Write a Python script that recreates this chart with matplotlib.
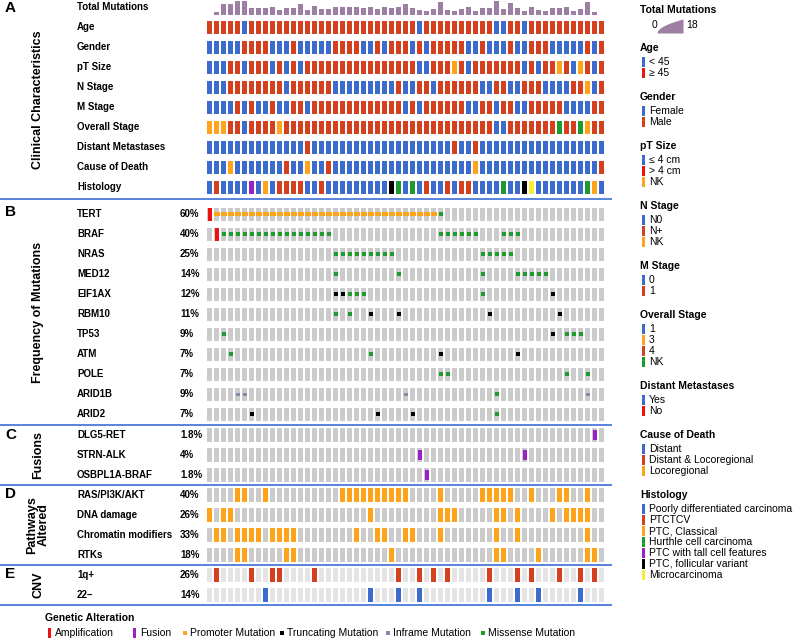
import matplotlib
matplotlib.use("Agg")
import matplotlib.pyplot as plt
import numpy as np

plt.rcParams['font.family'] = ['Liberation Sans', 'DejaVu Sans']

N = 57
total_mutations = [0, 3, 13, 13, 18, 17, 9, 9, 9, 10,
                   6, 9, 9, 14, 6, 11, 7, 7, 10, 10,
                   10, 10, 9, 10, 7, 10, 9, 10, 14, 9,
                   6, 4, 7, 16, 6, 4, 7, 10, 4, 9,
                   9, 17, 7, 15, 9, 4, 10, 6, 4, 9,
                   9, 10, 4, 7, 16, 3, 0]

# ---- clinical rows (one code digit per sample) ----
clin_labels = ["Age", "Gender", "pT Size", "N Stage", "M Stage", "Overall Stage",
               "Distant Metastases", "Cause of Death", "Histology"]
age = "1111101111" "1111111111" "1111111111" "0111111111" "1001101111" "1111111"
gender = "0000011110" "0010000011" "1100101110" "1011111001" "0001001110" "0000101"
pt_size = "0001101110" "1010111111" "1111111111" "0011121011" "1111101011" "2102101"
n_stage = "0001111111" "1011111100" "0000000100" "1101111110" "0110011100" "0011201"
m_stage = "0000101001" "0011011111" "1111111101" "0111111001" "1011001111" "1000011"
overall = "1112202222" "1222222222" "2222222222" "2222222222" "2002222222" "3223122"
dist_met = "0000000000" "0000100000" "0000000000" "0000010010" "0000000000" "0000000"
cause = "0002000000" "0100200100" "0000000000" "0000000020" "0000000000" "0000001"
histology = "0100004020" "1111001000" "0000005303" "0100101100" "0030056000" "0000320"
clin_data = [age, gender, pt_size, n_stage, m_stage, overall, dist_met, cause, histology]

# ---- mutations (A amplification, P promoter, T truncating, I inframe, M missense) ----
genes = ["TERT", "BRAF", "NRAS", "MED12", "EIF1AX", "RBM10", "TP53", "ATM", "POLE", "ARID1B", "ARID2"]
gene_pct = ["60%", "40%", "25%", "14%", "12%", "11%", "9%", "7%", "7%", "9%", "7%"]
mutations = [
    "APPPPPPPPP" "PPPPPPPPPP" "PPPPPPPPPP" "PPPM......" ".........." ".......",
    ".AMMMMMMMM" "MMMMMMMM.." ".........." "...MMMMMM." "..MMM....." ".......",
    ".........." "........MM" "MMMMMMM..." ".........M" "MMMM......" ".......",
    ".........." "........M." ".......M.." ".........M" "....MMMMM." ".......",
    ".........." "........TT" "MMM......." ".........M" ".........T" ".......",
    ".........." "........M." "M..T...T.." ".........." "T........." "T......",
    "..M......." ".........." ".........." ".........." ".........T" ".MMM...",
    "...M......" ".........." "...M......" "...T......" "....T....." ".......",
    ".........." ".........." ".........." "...MM....." ".........." ".M..M..",
    "....II...." ".........." "........I." ".........." ".M........" "....I..",
    "......T..." ".........." "....T....T" ".........." ".M........" ".......",
]

fusions = ["DLG5-RET", "STRN-ALK", "OSBPL1A-BRAF"]
fusion_pct = ["1.8%", "4%", "1.8%"]
fusion_data = [
    ".........." ".........." ".........." ".........." ".........." ".....F.",
    ".........." ".........." ".........." "F........." ".....F...." ".......",
    ".........." ".........." ".........." ".F........" ".........." ".......",
]

pathways = ["RAS/PI3K/AKT", "DNA damage", "Chromatin modifiers", "RTKs"]
pathway_pct = ["40%", "26%", "33%", "18%"]
pathway_data = [
    "....XX..X." ".........X" "XXXXXXXXX." "...X.....X" "XXXX..X..." "XX..X..",
    "X.XX......" ".........." "...X......" "...XXX...." ".XX.X....X" ".XXXX..",
    ".XX.XXXX.X" "XXX......." ".X..XX..XX" "...X......" ".X..X....." "....X..",
    "....XX...." ".XX......." "......X..." ".........." ".XX....X.." "....XX.",
]

cnvs = ["1q+", "22\u2013"]
cnv_pct = ["26%", "14%"]
cnv_data = [
    ".X....X..X" "X....X...." ".......X.." "X.X.X....." "X...X.X..." "X..X.X.",
    "........X." ".........." "...X...X.." "X........." "X...X..X.." "...X...",
]

# ---- colours ----
BLUE = "#3b6bcc"; RUST = "#d5401e"; RED = "#ee1111"; ORANGE = "#ffa31a"
GREEN = "#1f9a2e"; PURPLE = "#9a20c8"; BLACK = "#000000"; YELLOW = "#f7ec3a"
GREY = "#cbcbcb"; LGREY = "#e4e4e4"; INFRAME = "#7f8ea6"; TMB = "#9d7fa3"
LINE = "#4a7ad8"

clin_colors = [[BLUE, RUST], [BLUE, RUST], [BLUE, RUST, ORANGE], [BLUE, RUST, ORANGE],
               [BLUE, RUST], [BLUE, ORANGE, RUST, GREEN], [BLUE, RUST], [BLUE, RUST, ORANGE],
               [BLUE, RUST, ORANGE, GREEN, PURPLE, BLACK, YELLOW]]

fig = plt.figure(figsize=(8, 6.4), dpi=100)
W, H = 800, 640
gx0, gx1 = 206.3, 605.3

ov = fig.add_axes([0, 0, 1, 1])
ov.set_xlim(0, W); ov.set_ylim(H, 0); ov.axis('off')

ax = fig.add_axes([gx0 / W, 0, (gx1 - gx0) / W, 1])
ax.set_xlim(-0.5, N - 0.5); ax.set_ylim(H, 0); ax.axis('off')

bax = fig.add_axes([gx0 / W, 1 - 14.5 / H, (gx1 - gx0) / W, 14.0 / H])
bax.set_xlim(-0.5, N - 0.5); bax.set_ylim(0, 18); bax.axis('off')

cols = np.arange(N)
bax.bar(cols, total_mutations, width=0.7, color=TMB)

CW = 0.7  # cell width in columns
CH = 13.5

def cell_bars(yc, colors, h=CH, w=CW):
    ax.bar(cols, [h] * N, bottom=yc - h / 2, width=w, color=colors, linewidth=0)

# clinical
clin_y = [27.5 + 20 * i for i in range(len(clin_labels))]
for lab, codes, pal, yc in zip(clin_labels, clin_data, clin_colors, clin_y):
    cell_bars(yc, [pal[int(c)] for c in codes])
    ov.text(77, yc, lab, fontsize=7, fontweight='bold', va='center', ha='left')
ov.text(77, 7, "Total Mutations", fontsize=7, fontweight='bold', va='center', ha='left')

mark_style = {
    'P': (ORANGE, 0.78, 4.0),
    'T': (BLACK, 0.6, 4.2),
    'I': (INFRAME, 0.6, 3.6),
    'M': (GREEN, 0.6, 4.2),
}

def draw_alt_rows(labels, pcts, data, y0, bg=GREY):
    for i, (lab, pct, s) in enumerate(zip(labels, pcts, data)):
        yc = y0 + 20 * i
        cell_bars(yc, [bg] * N, h=13.3)
        for k, c in enumerate(s):
            if c == '.':
                continue
            if c == 'A':
                ax.bar(k, 13.3, bottom=yc - 6.65, width=0.62, color=RED, linewidth=0)
            elif c == 'F':
                ax.bar(k, 10, bottom=yc - 5, width=0.6, color=PURPLE, linewidth=0)
            elif c == 'X':
                ax.bar(k, 13.3, bottom=yc - 6.65, width=CW, color=ORANGE, linewidth=0)
            else:
                col, w, h = mark_style[c]
                ax.bar(k, h, bottom=yc - h / 2, width=w, color=col, linewidth=0)
        ov.text(77, yc, lab, fontsize=7, fontweight='bold', va='center', ha='left')
        ov.text(180, yc, pct, fontsize=7, fontweight='bold', va='center', ha='left')

draw_alt_rows(genes, gene_pct, mutations, 214.3)
draw_alt_rows(fusions, fusion_pct, fusion_data, 435)
draw_alt_rows(pathways, pathway_pct, pathway_data, 495)

# CNV rows
for i, (lab, pct, s) in enumerate(zip(cnvs, cnv_pct, cnv_data)):
    yc = 575 + 20 * i
    colr = RUST if i == 0 else BLUE
    cell_bars(yc, [colr if c == 'X' else LGREY for c in s], h=13.3)
    ov.text(77, yc, lab, fontsize=7, fontweight='bold', va='center', ha='left')
    ov.text(180, yc, pct, fontsize=7, fontweight='bold', va='center', ha='left')

# separators
for y in [199, 424.5, 485, 565, 605]:
    ov.plot([0, 612], [y, y], color=LINE, lw=1.3, solid_capstyle='butt')

# panel letters and section titles
for letter, y in [("A", 8), ("B", 212), ("C", 435), ("D", 494), ("E", 574)]:
    ov.text(5, y, letter, fontsize=11, fontweight='bold', va='center', ha='left')
ov.text(38, 100, "Clinical Characteristics", rotation=90, fontsize=9, fontweight='bold', ha='center', va='center')
ov.text(38, 312, "Frequency of Mutations", rotation=90, fontsize=9, fontweight='bold', ha='center', va='center')
ov.text(38, 455, "Fusions", rotation=90, fontsize=9, fontweight='bold', ha='center', va='center')
ov.text(38, 525, "Pathways\nAltered", rotation=90, fontsize=9, fontweight='bold', ha='center', va='center', linespacing=1.0)
ov.text(38, 585, "CNV", rotation=90, fontsize=9, fontweight='bold', ha='center', va='center')

# right legend
LX = 640
ov.text(LX, 10, "Total Mutations", fontsize=7.5, fontweight='bold', va='center')
ov.text(652, 25, "0", fontsize=7.5, va='center')
xx = np.linspace(657, 683, 50)
yy = 33 - 14 * np.sqrt((xx - 657) / 26)
ov.fill_between(xx, yy, 33, color=TMB, linewidth=0)
ov.text(686, 25, "18", fontsize=7.5, va='center')

legend_groups = [
    ("Age", ["< 45", "\u2265 45"], [BLUE, RED]),
    ("Gender", ["Female", "Male"], [BLUE, RUST]),
    ("pT Size", ["\u2264 4 cm", "> 4 cm", "NK"], [BLUE, RED, ORANGE]),
    ("N Stage", ["N0", "N+", "NK"], [BLUE, RUST, ORANGE]),
    ("M Stage", ["0", "1"], [BLUE, RUST]),
    ("Overall Stage", ["1", "3", "4", "NK"], [BLUE, ORANGE, RUST, GREEN]),
    ("Distant Metastases", ["Yes", "No"], [BLUE, RED]),
    ("Cause of Death", ["Distant", "Distant & Locoregional", "Locoregional"], [BLUE, RUST, ORANGE]),
    ("Histology", ["Poorly differentiated carcinoma", "PTCTCV", "PTC, Classical",
                   "Hurthle cell carcinoma", "PTC with tall cell features",
                   "PTC, follicular variant", "Microcarcinoma"],
     [BLUE, RUST, ORANGE, GREEN, PURPLE, BLACK, YELLOW]),
]
y = 48
for title, items, colors in legend_groups:
    ov.text(LX, y, title, fontsize=7.5, fontweight='bold', va='center')
    y += 14
    for it, c in zip(items, colors):
        ov.add_patch(plt.Rectangle((641.5, y - 5), 3.5, 10, color=c, lw=0))
        ov.text(649, y, it, fontsize=7.5, va='center')
        y += 11
    y += 13

# bottom legend
ov.text(45, 618, "Genetic Alteration", fontsize=7.5, fontweight='bold', va='center')
bl = [("Amplification", RED, 3, 10, 48), ("Fusion", PURPLE, 3, 10, 133),
      ("Promoter Mutation", ORANGE, 4, 4, 183), ("Truncating Mutation", BLACK, 4, 4, 280),
      ("Inframe Mutation", INFRAME, 4, 4, 386), ("Missense Mutation", GREEN, 4, 4, 481)]
for lab, c, w, h, x in bl:
    ov.add_patch(plt.Rectangle((x, 633 - h / 2), w, h, color=c, lw=0))
    ov.text(x + 7, 633, lab, fontsize=7.5, va='center')

fig.savefig("out.png", dpi=100)
